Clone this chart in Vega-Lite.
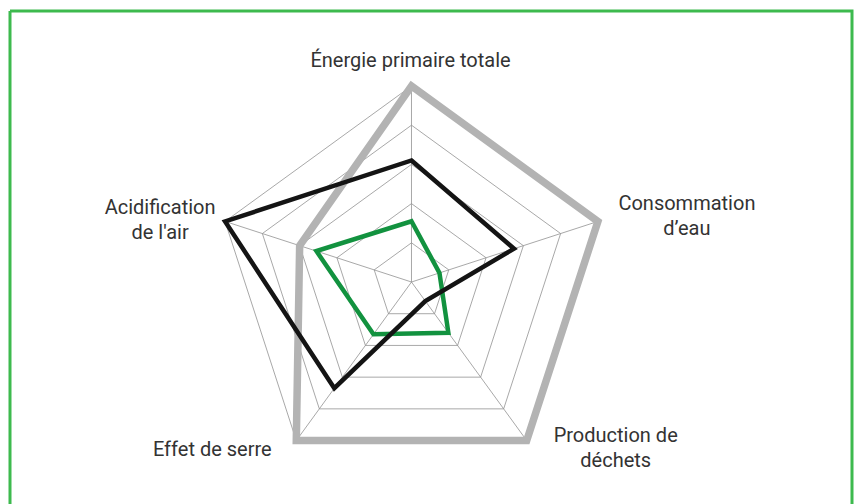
{
  "$schema": "https://vega.github.io/schema/vega-lite/v6.json",
  "width": 842,
  "height": 493,
  "autosize": {"type": "none"},
  "padding": {"left": 10, "top": 11, "right": 4, "bottom": 0},
  "background": "white",
  "config": {
    "view": {"stroke": "#3dba4e", "strokeWidth": 3, "strokeDash": [1335, 842, 493, 0]},
    "text": {"font": "Roboto", "fontSize": 20, "color": "#333333"}
  },
  "datasets": {
    "series": [
      {"serie": "Série 1", "axe": 0, "valeur": 5},
      {"serie": "Série 1", "axe": 1, "valeur": 5},
      {"serie": "Série 1", "axe": 2, "valeur": 5},
      {"serie": "Série 1", "axe": 3, "valeur": 5},
      {"serie": "Série 1", "axe": 4, "valeur": 3},
      {"serie": "Série 2", "axe": 0, "valeur": 3.1},
      {"serie": "Série 2", "axe": 1, "valeur": 2.75},
      {"serie": "Série 2", "axe": 2, "valeur": 0.6},
      {"serie": "Série 2", "axe": 3, "valeur": 3.35},
      {"serie": "Série 2", "axe": 4, "valeur": 5},
      {"serie": "Série 3", "axe": 0, "valeur": 1.55},
      {"serie": "Série 3", "axe": 1, "valeur": 0.75},
      {"serie": "Série 3", "axe": 2, "valeur": 1.6},
      {"serie": "Série 3", "axe": 3, "valeur": 1.65},
      {"serie": "Série 3", "axe": 4, "valeur": 2.55}
    ],
    "grille": [
      {"niveau": 1, "axe": 0}, {"niveau": 1, "axe": 1}, {"niveau": 1, "axe": 2}, {"niveau": 1, "axe": 3}, {"niveau": 1, "axe": 4},
      {"niveau": 2, "axe": 0}, {"niveau": 2, "axe": 1}, {"niveau": 2, "axe": 2}, {"niveau": 2, "axe": 3}, {"niveau": 2, "axe": 4},
      {"niveau": 3, "axe": 0}, {"niveau": 3, "axe": 1}, {"niveau": 3, "axe": 2}, {"niveau": 3, "axe": 3}, {"niveau": 3, "axe": 4},
      {"niveau": 4, "axe": 0}, {"niveau": 4, "axe": 1}, {"niveau": 4, "axe": 2}, {"niveau": 4, "axe": 3}, {"niveau": 4, "axe": 4},
      {"niveau": 5, "axe": 0}, {"niveau": 5, "axe": 1}, {"niveau": 5, "axe": 2}, {"niveau": 5, "axe": 3}, {"niveau": 5, "axe": 4}
    ],
    "axes": [
      {"axe": 0, "niveau": 5, "libelle": "Énergie primaire totale"},
      {"axe": 1, "niveau": 5, "libelle": "Consommation\nd’eau"},
      {"axe": 2, "niveau": 5, "libelle": "Production de\ndéchets"},
      {"axe": 3, "niveau": 5, "libelle": "Effet de serre"},
      {"axe": 4, "niveau": 5, "libelle": "Acidification\nde l'air"}
    ]
  },
  "layer": [
    {
      "data": {"name": "grille"},
      "transform": [
        {"calculate": "datum.axe * 2 * PI / 5", "as": "a"},
        {"calculate": "datum.niveau * sin(datum.a)", "as": "px"},
        {"calculate": "datum.niveau * cos(datum.a)", "as": "py"}
      ],
      "mark": {"type": "line", "interpolate": "linear-closed", "stroke": "#929292", "strokeWidth": 0.8},
      "encoding": {
        "x": {"field": "px", "type": "quantitative", "axis": null, "scale": {"domain": [-10.242, 11.237], "nice": false, "zero": false}},
        "y": {"field": "py", "type": "quantitative", "axis": null, "scale": {"domain": [-5.663, 6.913], "nice": false, "zero": false}},
        "detail": {"field": "niveau", "type": "nominal"},
        "order": {"field": "axe", "type": "quantitative"}
      }
    },
    {
      "data": {"name": "axes"},
      "transform": [
        {"calculate": "datum.axe * 2 * PI / 5", "as": "a"},
        {"calculate": "datum.niveau * sin(datum.a)", "as": "px"},
        {"calculate": "datum.niveau * cos(datum.a)", "as": "py"}
      ],
      "mark": {"type": "rule", "stroke": "#929292", "strokeWidth": 0.8},
      "encoding": {
        "x": {"field": "px", "type": "quantitative", "axis": null, "scale": {"domain": [-10.242, 11.237], "nice": false, "zero": false}},
        "y": {"field": "py", "type": "quantitative", "axis": null, "scale": {"domain": [-5.663, 6.913], "nice": false, "zero": false}},
        "x2": {"datum": 0},
        "y2": {"datum": 0}
      }
    },
    {
      "data": {"name": "series"},
      "transform": [
        {"filter": "datum.serie == 'Série 1'"},
        {"calculate": "datum.axe * 2 * PI / 5", "as": "a"},
        {"calculate": "datum.valeur * sin(datum.a)", "as": "px"},
        {"calculate": "datum.valeur * cos(datum.a)", "as": "py"}
      ],
      "mark": {"type": "line", "interpolate": "linear-closed", "stroke": "#b3b3b3", "strokeWidth": 7.5, "strokeJoin": "miter"},
      "encoding": {
        "x": {"field": "px", "type": "quantitative", "axis": null, "scale": {"domain": [-10.242, 11.237], "nice": false, "zero": false}},
        "y": {"field": "py", "type": "quantitative", "axis": null, "scale": {"domain": [-5.663, 6.913], "nice": false, "zero": false}},
        "order": {"field": "axe", "type": "quantitative"}
      }
    },
    {
      "data": {"name": "series"},
      "transform": [
        {"filter": "datum.serie == 'Série 3'"},
        {"calculate": "datum.axe * 2 * PI / 5", "as": "a"},
        {"calculate": "datum.valeur * sin(datum.a)", "as": "px"},
        {"calculate": "datum.valeur * cos(datum.a)", "as": "py"}
      ],
      "mark": {"type": "line", "interpolate": "linear-closed", "stroke": "#12923f", "strokeWidth": 4.5, "strokeJoin": "miter"},
      "encoding": {
        "x": {"field": "px", "type": "quantitative", "axis": null, "scale": {"domain": [-10.242, 11.237], "nice": false, "zero": false}},
        "y": {"field": "py", "type": "quantitative", "axis": null, "scale": {"domain": [-5.663, 6.913], "nice": false, "zero": false}},
        "order": {"field": "axe", "type": "quantitative"}
      }
    },
    {
      "data": {"name": "series"},
      "transform": [
        {"filter": "datum.serie == 'Série 2'"},
        {"calculate": "datum.axe * 2 * PI / 5", "as": "a"},
        {"calculate": "datum.valeur * sin(datum.a)", "as": "px"},
        {"calculate": "datum.valeur * cos(datum.a)", "as": "py"}
      ],
      "mark": {"type": "line", "interpolate": "linear-closed", "stroke": "#141414", "strokeWidth": 4.5, "strokeJoin": "miter"},
      "encoding": {
        "x": {"field": "px", "type": "quantitative", "axis": null, "scale": {"domain": [-10.242, 11.237], "nice": false, "zero": false}},
        "y": {"field": "py", "type": "quantitative", "axis": null, "scale": {"domain": [-5.663, 6.913], "nice": false, "zero": false}},
        "order": {"field": "axe", "type": "quantitative"}
      }
    },
    {
      "data": {"name": "axes"},
      "transform": [
        {"filter": "datum.axe == 0"},
        {"calculate": "datum.axe * 2 * PI / 5", "as": "a"},
        {"calculate": "datum.niveau * sin(datum.a)", "as": "px"},
        {"calculate": "datum.niveau * cos(datum.a)", "as": "py"}
      ],
      "mark": {"type": "text", "align": "center", "baseline": "alphabetic", "lineBreak": "\n", "lineHeight": 25, "dx": -1, "dy": -19},
      "encoding": {
        "x": {"field": "px", "type": "quantitative", "axis": null, "scale": {"domain": [-10.242, 11.237], "nice": false, "zero": false}},
        "y": {"field": "py", "type": "quantitative", "axis": null, "scale": {"domain": [-5.663, 6.913], "nice": false, "zero": false}},
        "text": {"field": "libelle", "type": "nominal"}
      }
    },
    {
      "data": {"name": "axes"},
      "transform": [
        {"filter": "datum.axe == 1"},
        {"calculate": "datum.axe * 2 * PI / 5", "as": "a"},
        {"calculate": "datum.niveau * sin(datum.a)", "as": "px"},
        {"calculate": "datum.niveau * cos(datum.a)", "as": "py"}
      ],
      "mark": {"type": "text", "align": "center", "baseline": "alphabetic", "lineBreak": "\n", "lineHeight": 25, "dx": 89, "dy": -11},
      "encoding": {
        "x": {"field": "px", "type": "quantitative", "axis": null, "scale": {"domain": [-10.242, 11.237], "nice": false, "zero": false}},
        "y": {"field": "py", "type": "quantitative", "axis": null, "scale": {"domain": [-5.663, 6.913], "nice": false, "zero": false}},
        "text": {"field": "libelle", "type": "nominal"}
      }
    },
    {
      "data": {"name": "axes"},
      "transform": [
        {"filter": "datum.axe == 2"},
        {"calculate": "datum.axe * 2 * PI / 5", "as": "a"},
        {"calculate": "datum.niveau * sin(datum.a)", "as": "px"},
        {"calculate": "datum.niveau * cos(datum.a)", "as": "py"}
      ],
      "mark": {"type": "text", "align": "center", "baseline": "alphabetic", "lineBreak": "\n", "lineHeight": 25, "dx": 89, "dy": 1},
      "encoding": {
        "x": {"field": "px", "type": "quantitative", "axis": null, "scale": {"domain": [-10.242, 11.237], "nice": false, "zero": false}},
        "y": {"field": "py", "type": "quantitative", "axis": null, "scale": {"domain": [-5.663, 6.913], "nice": false, "zero": false}},
        "text": {"field": "libelle", "type": "nominal"}
      }
    },
    {
      "data": {"name": "axes"},
      "transform": [
        {"filter": "datum.axe == 3"},
        {"calculate": "datum.axe * 2 * PI / 5", "as": "a"},
        {"calculate": "datum.niveau * sin(datum.a)", "as": "px"},
        {"calculate": "datum.niveau * cos(datum.a)", "as": "py"}
      ],
      "mark": {"type": "text", "align": "center", "baseline": "alphabetic", "lineBreak": "\n", "lineHeight": 25, "dx": -84, "dy": 15},
      "encoding": {
        "x": {"field": "px", "type": "quantitative", "axis": null, "scale": {"domain": [-10.242, 11.237], "nice": false, "zero": false}},
        "y": {"field": "py", "type": "quantitative", "axis": null, "scale": {"domain": [-5.663, 6.913], "nice": false, "zero": false}},
        "text": {"field": "libelle", "type": "nominal"}
      }
    },
    {
      "data": {"name": "axes"},
      "transform": [
        {"filter": "datum.axe == 4"},
        {"calculate": "datum.axe * 2 * PI / 5", "as": "a"},
        {"calculate": "datum.niveau * sin(datum.a)", "as": "px"},
        {"calculate": "datum.niveau * cos(datum.a)", "as": "py"}
      ],
      "mark": {"type": "text", "align": "center", "baseline": "alphabetic", "lineBreak": "\n", "lineHeight": 25, "dx": -65, "dy": -7},
      "encoding": {
        "x": {"field": "px", "type": "quantitative", "axis": null, "scale": {"domain": [-10.242, 11.237], "nice": false, "zero": false}},
        "y": {"field": "py", "type": "quantitative", "axis": null, "scale": {"domain": [-5.663, 6.913], "nice": false, "zero": false}},
        "text": {"field": "libelle", "type": "nominal"}
      }
    }
  ]
}
